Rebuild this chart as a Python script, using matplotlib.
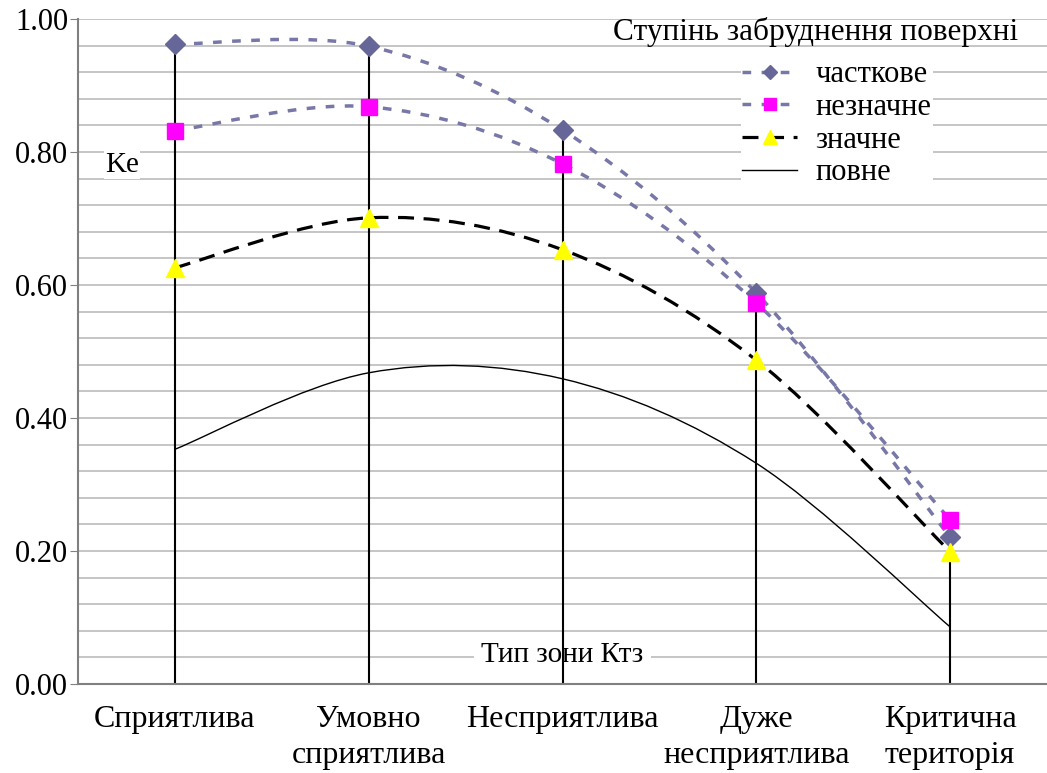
import numpy as np
import matplotlib
matplotlib.use("Agg")
import matplotlib.pyplot as plt
from matplotlib.path import Path
from matplotlib.patches import PathPatch
from matplotlib.lines import Line2D

plt.rcParams['font.family'] = ['Liberation Serif', 'DejaVu Serif']

# Дані
categories = ["Сприятлива", "Умовно\nсприятлива", "Несприятлива",
              "Дуже\nнесприятлива", "Критична\nтериторія"]
chastkove = [0.962, 0.959, 0.833, 0.588, 0.221]
neznachne = [0.832, 0.868, 0.782, 0.573, 0.247]
znachne = [0.626, 0.701, 0.653, 0.487, 0.199]
povne = [0.353, 0.468, 0.459, 0.332, 0.086]
series_names = ["часткове", "незначне", "значне", "повне"]


# Згладжена лінія як у Excel (криві Безьє)
def smooth_path(ys):
    xs = np.arange(len(ys), dtype=float)
    ys = np.asarray(ys, dtype=float)
    pts = np.column_stack([xs, ys])
    verts = [pts[0]]
    codes = [Path.MOVETO]
    n = len(pts)
    for i in range(n - 1):
        p0 = pts[i - 1] if i > 0 else pts[i]
        p1 = pts[i]
        p2 = pts[i + 1]
        p3 = pts[i + 2] if i + 2 < n else pts[i + 1]
        c1 = p1 + (p2 - p0) / 6.0
        c2 = p2 - (p3 - p1) / 6.0
        verts += [c1, c2, p2]
        codes += [Path.CURVE4] * 3
    return Path(verts, codes)


fig = plt.figure(figsize=(10.47, 7.73), dpi=100)
ax = fig.add_axes([0.0745, 0.115, 0.9255, 0.8605])

x = np.arange(len(categories))
grid_c = "#c0c0c0"
for yv in np.arange(0.04, 1.001, 0.04):
    ax.axhline(yv, color=grid_c, lw=1.3, zorder=0)

# вертикальні лінії
tops = np.max([chastkove, neznachne, znachne, povne], axis=0)
ax.vlines(x, 0, tops, color="black", lw=1.5, zorder=2)

slate = "#7777a8"
styles = [
    dict(color=slate, lw=2.5, ls=(0, (2.5, 3))),
    dict(color=slate, lw=2.5, ls=(0, (2.5, 3))),
    dict(color="black", lw=2.3, ls=(0, (5, 3))),
    dict(color="black", lw=1.0, ls="-"),
]
for ys, st in zip([chastkove, neznachne, znachne, povne], styles):
    patch = PathPatch(smooth_path(ys), facecolor="none", edgecolor=st["color"],
                      lw=st["lw"], ls=st["ls"], zorder=3)
    ax.add_patch(patch)

ax.plot(x, chastkove, ls="none", marker="D", ms=10, color="#666699", zorder=5)
ax.plot(x, neznachne, ls="none", marker="s", ms=11, color="#ff00ff", zorder=5)
ax.plot(x, znachne, ls="none", marker="^", ms=13, color="#ffff00",
        markeredgecolor="#ffff00", zorder=5)

ax.set_xlim(-0.5, 4.5)
ax.set_ylim(0, 1.0)
ax.set_yticks(np.arange(0, 1.01, 0.2))
ax.set_yticklabels([f"{v:.2f}" for v in np.arange(0, 1.01, 0.2)], fontsize=22)
ax.set_xticks(x)
ax.set_xticklabels(categories, fontsize=23, linespacing=1.3)
ax.tick_params(axis="x", length=0, pad=15)
ax.tick_params(axis="y", length=6, color="#808080", pad=1)
for s in ["top", "right"]:
    ax.spines[s].set_visible(False)
for s in ["left", "bottom"]:
    ax.spines[s].set_color("#808080")
    ax.spines[s].set_linewidth(1.5)

ax.text(0.028, 0.781, "Ke", fontsize=21, transform=ax.transAxes, va="center",
        ha="left", bbox=dict(facecolor="white", edgecolor="none", pad=1))
ax.text(2.0, 0.044, "Тип зони Ктз", fontsize=21, ha="center", va="center",
        zorder=1, bbox=dict(facecolor="white", edgecolor="none", pad=5))
ax.text(0.970, 0.981, "Ступінь забруднення поверхні", fontsize=22.5,
        transform=ax.transAxes, ha="right", va="center")

handles = [
    Line2D([], [], color=slate, lw=2.5, ls=(0, (2.5, 3)), marker="D", ms=7,
           markerfacecolor="#666699", markeredgecolor="#666699"),
    Line2D([], [], color=slate, lw=2.5, ls=(0, (2.5, 3)), marker="s", ms=8,
           markerfacecolor="#ff00ff", markeredgecolor="#ff00ff"),
    Line2D([], [], color="black", lw=2.3, ls=(0, (5, 3)), marker="^", ms=10,
           markerfacecolor="#ffff00", markeredgecolor="#ffff00"),
    Line2D([], [], color="black", lw=1.0),
]
leg = ax.legend(handles, series_names, loc="upper left",
                bbox_to_anchor=(0.668, 0.963), fontsize=22, frameon=True,
                facecolor="white", edgecolor="none", framealpha=1,
                handlelength=1.8, handletextpad=0.6, labelspacing=0.12,
                borderpad=0.05)

fig.savefig("out.png", dpi=100)
